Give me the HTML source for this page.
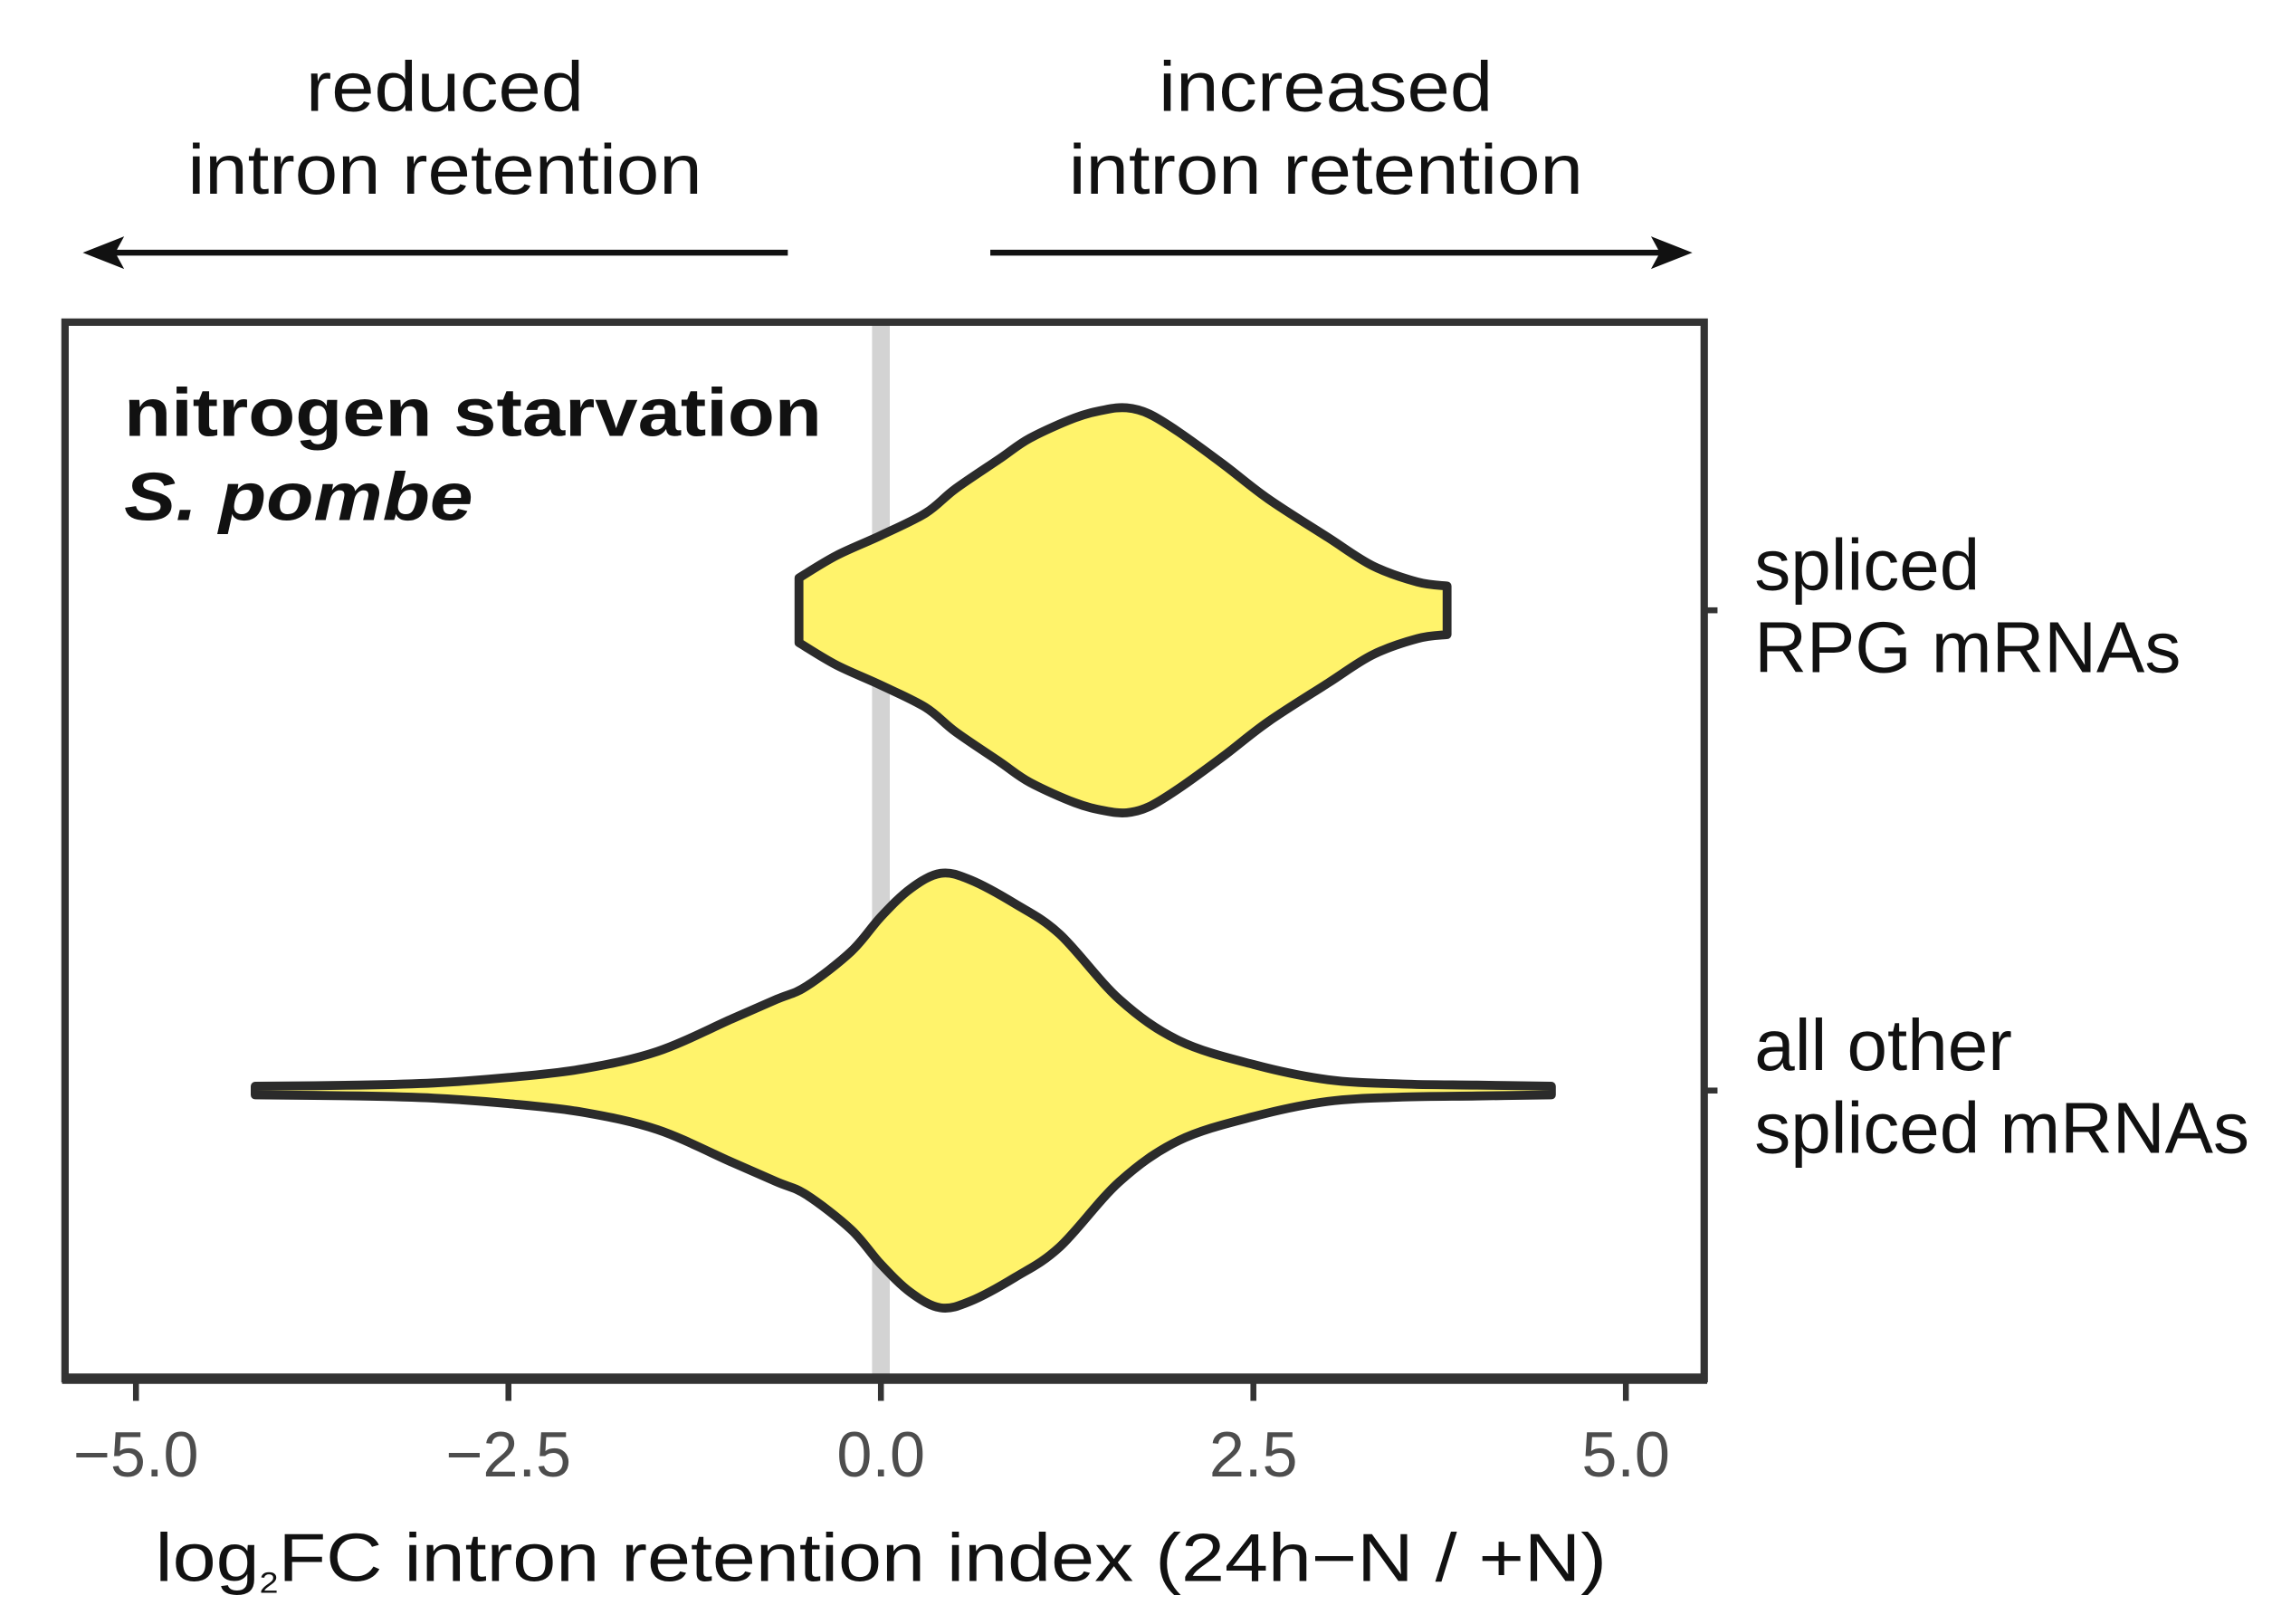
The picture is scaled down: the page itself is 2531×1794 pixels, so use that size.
<!DOCTYPE html>
<html><head><meta charset="utf-8"><style>
html,body{margin:0;padding:0;background:#fff}
svg{display:block}
text{font-family:"Liberation Sans",Arial,sans-serif}
</style></head><body>
<svg id="chart" width="2531" height="1794" viewBox="0 0 1550 1099" preserveAspectRatio="none" xmlns="http://www.w3.org/2000/svg">
<g font-size="48" fill="#111" text-anchor="middle">
 <text x="301" y="75" textLength="188" lengthAdjust="spacingAndGlyphs">reduced</text>
 <text x="301" y="131" textLength="348" lengthAdjust="spacingAndGlyphs">intron retention</text>
 <text x="897" y="75" textLength="226" lengthAdjust="spacingAndGlyphs">increased</text>
 <text x="897" y="131" textLength="348" lengthAdjust="spacingAndGlyphs">intron retention</text>
 <line x1="533" y1="171" x2="70" y2="171" stroke="#111" stroke-width="4"/>
 <path d="M56 171 L84 160 L78 171 L84 182 Z" fill="#111"/>
 <line x1="670" y1="171" x2="1132" y2="171" stroke="#111" stroke-width="4"/>
 <path d="M1145 171 L1117 160 L1123 171 L1117 182 Z" fill="#111"/>
</g>
<rect x="44" y="218" width="1109" height="715" fill="#fff"/>
<line x1="596" y1="220" x2="596" y2="931" stroke="#d3d3d3" stroke-width="12"/>
<g id="violins"></g>
<rect x="44" y="218" width="1109" height="715" fill="none" stroke="#333" stroke-width="5"/>
<line x1="42" y1="933" x2="1155" y2="933" stroke="#333" stroke-width="7"/>
<g id="xaxis"></g>
<g id="yaxis"></g>
<text x="84" y="295" font-size="46" font-weight="bold" fill="#111" textLength="472" lengthAdjust="spacingAndGlyphs">nitrogen starvation</text>
<text x="84" y="352" font-size="46" font-weight="bold" font-style="italic" fill="#111" textLength="236" lengthAdjust="spacingAndGlyphs">S. pombe</text>
<text x="596" y="1070" font-size="46" fill="#111" text-anchor="middle" textLength="982" lengthAdjust="spacingAndGlyphs">log<tspan font-size="20" dy="8">2</tspan><tspan dy="-8">FC intron retention index (24h</tspan>−N / +N)</text>
</svg>
<script>
const xTicks = [-5, -2.5, 0, 2.5, 5];
const xTickLabels = ["−5.0", "−2.5", "0.0", "2.5", "5.0"];
const categories = ["spliced\nRPG mRNAs", "all other\nspliced mRNAs"];
const rpgX = [-0.55, -0.3, 0, 0.3, 0.5, 0.8, 1.0, 1.3, 1.5, 1.65, 1.8, 2.0, 2.3, 2.6, 3.0, 3.3, 3.6, 3.8];
const rpgDensity = [0.16, 0.27, 0.37, 0.48, 0.6, 0.75, 0.85, 0.95, 0.99, 1.0, 0.97, 0.88, 0.72, 0.55, 0.36, 0.22, 0.14, 0.12];
const otherX = [-4.2, -3.5, -3.0, -2.5, -2.0, -1.5, -1.0, -0.7, -0.5, -0.2, 0, 0.2, 0.4, 0.6, 0.9, 1.2, 1.6, 2.0, 2.5, 3.0, 3.5, 4.0, 4.5];
const otherDensity = [0.02, 0.025, 0.035, 0.06, 0.1, 0.18, 0.33, 0.42, 0.48, 0.64, 0.8, 0.93, 1.0, 0.97, 0.86, 0.72, 0.42, 0.23, 0.12, 0.05, 0.03, 0.025, 0.02];

const NS = "http://www.w3.org/2000/svg";
const xScale = v => 596 + v * 100.8;
const yCenters = [413, 738];
const maxHalf = [137, 147];

function smoothPath(pts){
  let d = "M" + pts[0][0] + " " + pts[0][1];
  for (let i = 0; i < pts.length - 1; i++) {
    const p0 = pts[i-1] || pts[i], p1 = pts[i], p2 = pts[i+1], p3 = pts[i+2] || p2;
    const c1 = [p1[0] + (p2[0]-p0[0])/6, p1[1] + (p2[1]-p0[1])/6];
    const c2 = [p2[0] - (p3[0]-p1[0])/6, p2[1] - (p3[1]-p1[1])/6];
    d += " C" + c1.join(" ") + " " + c2.join(" ") + " " + p2.join(" ");
  }
  return d;
}
function violin(xs, ds, ci){
  const top = xs.map((x,i)=>[xScale(x), yCenters[ci] - ds[i]*maxHalf[ci]]);
  const bot = xs.map((x,i)=>[xScale(x), yCenters[ci] + ds[i]*maxHalf[ci]]).reverse();
  const d = smoothPath(top) + " L" + bot[0].join(" ") + smoothPath(bot).replace(/^M[^C]*/, " ") + " Z";
  const p = document.createElementNS(NS, "path");
  p.setAttribute("d", d);
  p.setAttribute("fill", "#fff36b");
  p.setAttribute("stroke", "#2b2b2b");
  p.setAttribute("stroke-width", "6");
  p.setAttribute("stroke-linejoin", "round");
  
  
  document.getElementById("violins").appendChild(p);
}
violin(rpgX, rpgDensity, 0);
violin(otherX, otherDensity, 1);

const xa = document.getElementById("xaxis");
xTicks.forEach((t,i)=>{
  const l = document.createElementNS(NS, "line");
  l.setAttribute("x1", xScale(t)); l.setAttribute("x2", xScale(t));
  l.setAttribute("y1", 935); l.setAttribute("y2", 948);
  l.setAttribute("stroke", "#333"); l.setAttribute("stroke-width", "4");
  
  
  xa.appendChild(l);
  const tx = document.createElementNS(NS, "text");
  tx.setAttribute("x", xScale(t)); tx.setAttribute("y", 999);
  tx.setAttribute("text-anchor", "middle"); tx.setAttribute("font-size", "43");
  tx.setAttribute("fill", "#4d4d4d");
  tx.textContent = xTickLabels[i];
  
  
  xa.appendChild(tx);
});
const ya = document.getElementById("yaxis");
categories.forEach((c,i)=>{
  const l = document.createElementNS(NS, "line");
  l.setAttribute("x1", 1155); l.setAttribute("x2", 1162);
  l.setAttribute("y1", yCenters[i]); l.setAttribute("y2", yCenters[i]);
  l.setAttribute("stroke", "#333"); l.setAttribute("stroke-width", "4");
  
  
  ya.appendChild(l);
  c.split("\n").forEach((line,j)=>{
    const tx = document.createElementNS(NS, "text");
    tx.setAttribute("x", 1187); tx.setAttribute("y", yCenters[i] - 14 + j*56);
    tx.setAttribute("font-size", "49"); tx.setAttribute("fill", "#111");
    tx.textContent = line;
    
    
    ya.appendChild(tx);
  });
});
</script>
</body></html>
